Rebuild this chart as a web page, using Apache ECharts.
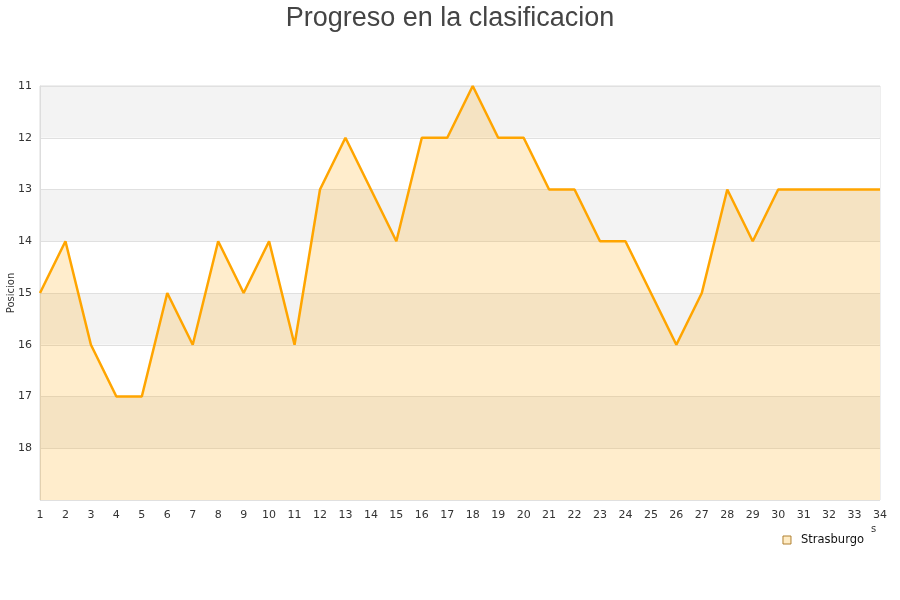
<!DOCTYPE html>
<html><head><meta charset="utf-8">
<script src="https://cdn.jsdelivr.net/npm/echarts@6/dist/echarts.min.js"></script>
<style>html,body{margin:0;padding:0;background:#fff}#c{width:900px;height:600px}</style>
</head><body><div id="c"></div>
<script>
const jornadas = [1,2,3,4,5,6,7,8,9,10,11,12,13,14,15,16,17,18,19,20,21,22,23,24,25,26,27,28,29,30,31,32,33,34];
const posiciones = [15,14,16,17,17,15,16,14,15,14,16,13,12,13,14,12,12,11,12,12,13,13,14,14,15,16,15,13,14,13,13,13,13,13];
const equipo = 'Strasburgo';
const titulo = 'Progreso en la clasificacion';
const ejeY = 'Posicion';

const chart = echarts.init(document.getElementById('c'));
chart.setOption({
  animation: false,
  title: { text: titulo, left: 'center', top: 0,
    textStyle: { fontFamily: 'Liberation Sans, Arial', fontSize: 27, fontWeight: 'normal', color: '#444' } },
  grid: { left: 40, right: 20, top: 86, bottom: 100, containLabel: false, outerBoundsMode: 'none',
    show: true, borderColor: '#ddd', borderWidth: 1, backgroundColor: 'transparent' },
  legend: { right: 31, top: 529, itemWidth: 8, itemHeight: 8, icon: 'rect', itemGap: 10,
    textStyle: { fontFamily: 'DejaVu Sans', fontSize: 11.5, color: '#111', padding: [0, 0, 0, 5] },
    data: [{ name: equipo, itemStyle: { color: '#ffecc5', borderColor: '#b08030', borderWidth: 1 } }] },
  xAxis: { type: 'value', min: 1, max: 34, interval: 1,
    axisLine: { show: false }, axisTick: { show: false }, splitLine: { show: false },
    axisLabel: { fontFamily: 'DejaVu Sans', fontSize: 11, color: '#333', margin: 10 } },
  yAxis: { type: 'value', inverse: true, min: 11, max: 19, interval: 1,
    axisLine: { show: true, lineStyle: { color: '#ddd' } }, axisTick: { show: false },
    axisLabel: { fontFamily: 'DejaVu Sans', fontSize: 11, color: '#333', margin: 8,
      formatter: v => v === 19 ? '' : String(v) },
    splitLine: { show: true, lineStyle: { color: '#e0e0e0' } },
    splitArea: { show: true, areaStyle: { color: ['#f3f3f3', '#ffffff'] } } },
  series: [{
    name: equipo, type: 'line', data: jornadas.map((j, i) => [j, posiciones[i]]),
    showSymbol: false, symbol: 'none',
    lineStyle: { color: '#ffa500', width: 2.5 }, itemStyle: { color: '#ffa500' },
    areaStyle: { origin: 'end', color: 'rgba(255,165,0,0.2)', opacity: 1 }
  }],
  graphic: [
    { type: 'text', x: 11, y: 293, rotation: Math.PI / 2,
      style: { text: ejeY, fontFamily: 'DejaVu Sans', fontSize: 10, fill: '#333', align: 'center', verticalAlign: 'middle' } },
    { type: 'text', left: 871, top: 524, style: { text: 's', fontFamily: 'DejaVu Sans', fontSize: 10, fill: '#333' } }
  ]
});
</script></body></html>
